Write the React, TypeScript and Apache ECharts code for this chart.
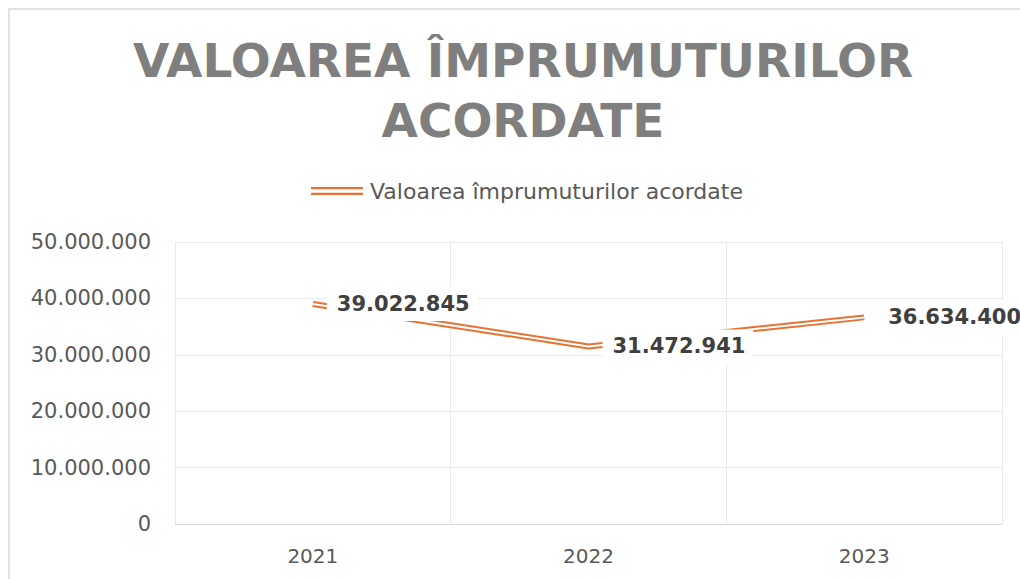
import React, { useEffect, useRef } from "react";
import * as echarts from "echarts";

const titleText = "VALOAREA ÎMPRUMUTURILOR\nACORDATE";
const seriesName = "Valoarea împrumuturilor acordate";
const categories = ["2021", "2022", "2023"];
const values = [39022845, 31472941, 36634400];
const yMin = 0;
const yMax = 50000000;
const yInterval = 10000000;

const fmt = (v: number) => String(Math.round(v)).replace(/\B(?=(\d{3})+(?!\d))/g, ".");

const ORANGE = "#E97132";
const FONT = "DejaVu Sans";

export default function App() {
  const ref = useRef<HTMLDivElement>(null);
  useEffect(() => {
    if (!ref.current) return;
    const chart = echarts.init(ref.current, undefined, { renderer: "svg" });
    chart.setOption({
      animation: false,
      backgroundColor: "#ffffff",
      textStyle: { fontFamily: FONT },
      graphic: [
        {
          type: "rect",
          shape: { x: 9, y: 9, width: 1200, height: 800 },
          style: { fill: "none", stroke: "#d9d9d9", lineWidth: 1.5 },
          silent: true,
          z: -1,
        },
      ],
      title: {
        text: titleText,
        left: 518,
        textAlign: "center",
        top: 25,
        textStyle: {
          fontFamily: FONT,
          fontWeight: "bold",
          fontSize: 47,
          lineHeight: 60,
          color: "#7f7f7f",
        },
      },
      legend: {
        data: [seriesName],
        left: 306,
        top: 175,
        icon: "path://M0,0H52V2.2H0Z M0,5.8H52V8H0Z",
        itemWidth: 52,
        itemHeight: 8,
        itemGap: 8,
        textStyle: { fontFamily: FONT, fontSize: 22, color: "#595959", padding: [0, 0, 0, 2] },
      },
      grid: { left: 175, right: 18, top: 242, bottom: 55 },
      xAxis: {
        type: "category",
        data: categories,
        boundaryGap: true,
        axisLine: { show: true, lineStyle: { color: "#d9d9d9", width: 1 } },
        axisTick: { show: false },
        splitLine: { show: true, lineStyle: { color: "#ebebeb", width: 1 } },
        axisLabel: { fontFamily: FONT, fontSize: 20, color: "#595959", margin: 22 },
      },
      yAxis: {
        type: "value",
        min: yMin,
        max: yMax,
        interval: yInterval,
        axisLine: { show: false },
        axisTick: { show: false },
        splitLine: { show: true, lineStyle: { color: "#ebebeb", width: 1 } },
        axisLabel: {
          fontFamily: FONT,
          fontSize: 21,
          color: "#595959",
          margin: 24,
          formatter: (v: number) => fmt(v),
        },
      },
      series: [
        {
          name: seriesName,
          type: "line",
          data: values,
          symbol: "circle",
          symbolSize: 0,
          showSymbol: true,
          itemStyle: { color: ORANGE },
          lineStyle: { color: ORANGE, width: 6 },
          z: 2,
        },
        {
          name: "inner",
          type: "line",
          data: values,
          symbol: "circle",
          symbolSize: 0,
          showSymbol: true,
          itemStyle: { color: "#ffffff" },
          lineStyle: { color: "#ffffff", width: 2 },
          z: 3,
          label: {
            show: true,
            position: "right",
            distance: 14,
            fontFamily: FONT,
            fontWeight: "bold",
            fontSize: 21,
            color: "#404040",
            backgroundColor: "#ffffff",
            padding: [7, 8, 6, 10],
            formatter: (p: any) => fmt(p.value),
          },
        },
      ],
    });
    return () => chart.dispose();
  }, []);
  return (
    <div
      ref={ref}
      style={{ position: "fixed", left: 0, top: 0, width: 1020, height: 579 }}
    />
  );
}
